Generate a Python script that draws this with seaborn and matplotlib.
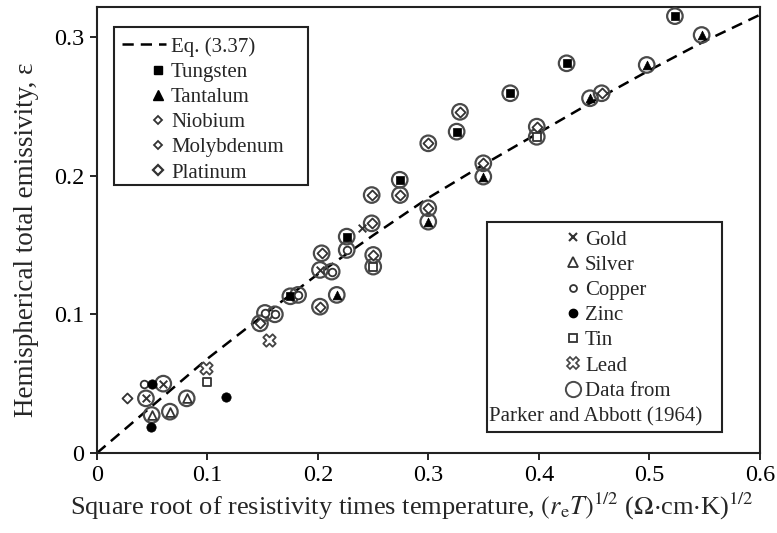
import matplotlib
matplotlib.use("Agg")
import matplotlib.pyplot as plt
import seaborn as sns
from matplotlib.lines import Line2D
from matplotlib.patches import Rectangle
from matplotlib.legend_handler import HandlerLine2D

# ---------------- data ----------------
eq_x = [0, 0.05, 0.1, 0.15, 0.2, 0.25, 0.3, 0.35, 0.4, 0.45, 0.5, 0.55, 0.6]
eq_y = [0, 0.034, 0.068, 0.099, 0.129, 0.157, 0.184, 0.208, 0.231, 0.254, 0.276, 0.297, 0.316]

tungsten_x = [0.175, 0.226, 0.274, 0.3255, 0.374, 0.425, 0.523]
tungsten_y = [0.113, 0.156, 0.197, 0.2317, 0.2594, 0.281, 0.315]

tantalum_x = [0.217, 0.2998, 0.3496, 0.4462, 0.4975, 0.5472]
tantalum_y = [0.114, 0.1668, 0.1993, 0.2558, 0.2798, 0.3014]

niobium_x = [0.027, 0.25, 0.4567]
niobium_y = [0.040, 0.1428, 0.2594]

molybdenum_x = [0.1475, 0.2018, 0.2486, 0.2998, 0.3496, 0.398]
molybdenum_y = [0.0935, 0.1055, 0.1656, 0.1765, 0.2089, 0.2353]

platinum_x = [0.2033, 0.2486, 0.2742, 0.2998, 0.3285]
platinum_y = [0.144, 0.186, 0.186, 0.2233, 0.246]

gold_x = [0.0443, 0.060, 0.2018, 0.2395]
gold_y = [0.0394, 0.050, 0.132, 0.162]

silver_x = [0.0495, 0.066, 0.0812]
silver_y = [0.0274, 0.0298, 0.0394]

copper_x = [0.043, 0.152, 0.161, 0.182, 0.2124, 0.226]
copper_y = [0.0495, 0.101, 0.100, 0.114, 0.1308, 0.1464]

zinc_x = [0.050, 0.0489, 0.1167]
zinc_y = [0.0495, 0.0185, 0.0406]

tin_x = [0.0992, 0.25, 0.398]
tin_y = [0.051, 0.1344, 0.228]

lead_x = [0.0986, 0.156]
lead_y = [0.061, 0.0815]

# Parker and Abbott (1964) data (ringed points)
parker_x = [0.0443, 0.060, 0.0495, 0.066, 0.0812,
            0.1475, 0.152, 0.161, 0.175, 0.182, 0.2018, 0.217, 0.2033, 0.2018, 0.2124,
            0.226, 0.226, 0.2486, 0.2486, 0.25, 0.25, 0.274, 0.2742,
            0.2998, 0.2998, 0.2998, 0.3255, 0.3285, 0.3496, 0.3496, 0.374,
            0.398, 0.398, 0.425, 0.4462, 0.4567, 0.4975, 0.523, 0.5472]
parker_y = [0.0394, 0.050, 0.0274, 0.0298, 0.0394,
            0.0935, 0.101, 0.100, 0.113, 0.114, 0.1055, 0.114, 0.144, 0.132, 0.1308,
            0.1464, 0.156, 0.1656, 0.186, 0.1428, 0.1344, 0.197, 0.186,
            0.2233, 0.1765, 0.1668, 0.2317, 0.246, 0.2089, 0.1993, 0.2594,
            0.2353, 0.228, 0.281, 0.2558, 0.2594, 0.2798, 0.315, 0.3014]

x_ticks = [0, 0.1, 0.2, 0.3, 0.4, 0.5, 0.6]
x_tick_labels = ["0", "0.1", "0.2", "0.3", "0.4", "0.5", "0.6"]
y_ticks = [0, 0.1, 0.2, 0.3]
y_tick_labels = ["0", "0.1", "0.2", "0.3"]

# ---------------- style ----------------
sns.set_style("ticks")
plt.rcParams["font.family"] = ["Liberation Serif", "DejaVu Serif"]
plt.rcParams["mathtext.fontset"] = "stix"

fig = plt.figure(figsize=(7.77, 5.33), dpi=100)
ax = fig.add_axes([0.1248, 0.1501, 0.8533, 0.8368])

K = "black"
RING = "#4a4a4a"

sns.lineplot(x=eq_x, y=eq_y, ax=ax, color=K, lw=1.8, dashes=False, zorder=2)
ax.lines[-1].set_dashes((4.5, 2.8))

# rings
sns.scatterplot(x=parker_x, y=parker_y, ax=ax, marker="o", s=125, facecolor="none",
                edgecolor=RING, linewidth=1.6, zorder=3)
# inner markers
sns.scatterplot(x=tungsten_x, y=tungsten_y, ax=ax, marker="s", s=36, color=K, edgecolor=K, linewidth=0.5, zorder=4)
sns.scatterplot(x=tantalum_x, y=tantalum_y, ax=ax, marker="^", s=40, color=K, edgecolor=K, linewidth=0.5, zorder=4)
for xs, ys in [(niobium_x, niobium_y), (molybdenum_x, molybdenum_y), (platinum_x, platinum_y)]:
    sns.scatterplot(x=xs, y=ys, ax=ax, marker="D", s=26, color="white", edgecolor="#333333", linewidth=1.3, zorder=4)
sns.scatterplot(x=gold_x, y=gold_y, ax=ax, marker="x", s=30, color="#333333", linewidth=1.4, zorder=4)
sns.scatterplot(x=silver_x, y=silver_y, ax=ax, marker="^", s=40, color="white", edgecolor="#333333", linewidth=1.3, zorder=4)
sns.scatterplot(x=copper_x, y=copper_y, ax=ax, marker="o", s=30, color="white", edgecolor="#333333", linewidth=1.3, zorder=4)
sns.scatterplot(x=zinc_x, y=zinc_y, ax=ax, marker="o", s=45, color=K, edgecolor=K, linewidth=0.5, zorder=4)
sns.scatterplot(x=tin_x, y=tin_y, ax=ax, marker="s", s=30, color="white", edgecolor="#333333", linewidth=1.3, zorder=4)
sns.scatterplot(x=lead_x, y=lead_y, ax=ax, marker="X", s=80, color="white", edgecolor="#444444", linewidth=1.3, zorder=4)

# ---------------- axes ----------------
ax.set_xlim(0, 0.6)
ax.set_ylim(0, 0.3216)
ax.set_xticks(x_ticks)
ax.set_xticklabels(x_tick_labels)
ax.set_yticks(y_ticks)
ax.set_yticklabels(y_tick_labels)
ax.tick_params(direction="out", length=5, width=1.2, labelsize=17.5, colors=K, pad=4)
for s in ax.spines.values():
    s.set_visible(True)
    s.set_linewidth(1.5)
    s.set_color("#222222")
ax.set_xlabel(r"Square root of resistivity times temperature, $(r_{\mathrm{e}}T)^{1/2}$ ($\Omega$$\cdot$cm$\cdot$K)$^{1/2}$",
              fontsize=19)
ax.xaxis.set_label_coords(0.475, -0.121)
ax.xaxis.label.set_va("center")
ax.set_ylabel("Hemispherical total emissivity, ε", fontsize=19.5)
ax.yaxis.set_label_coords(-0.087, 0.478)


class RightMarkerHandler(HandlerLine2D):
    def __init__(self, frac=0.82, **kw):
        super().__init__(**kw)
        self.frac = frac

    def create_artists(self, legend, orig_handle, xdescent, ydescent, width, height, fontsize, trans):
        arts = super().create_artists(legend, orig_handle, xdescent, ydescent, width, height, fontsize, trans)
        for a in arts:
            a.set_xdata([self.frac * width - xdescent] * len(a.get_xdata()))
        return arts


# legend 1
h_eq = Line2D([], [], color=K, lw=1.8, dashes=(4.5, 2.8))
h_w = Line2D([], [], ls="None", marker="s", ms=6, mfc=K, mec=K)
h_ta = Line2D([], [], ls="None", marker="^", ms=6.5, mfc=K, mec=K)
h_nb = Line2D([], [], ls="None", marker="D", ms=4.5, mfc="white", mec="#333333", mew=1.3)
h_mo = Line2D([], [], ls="None", marker="D", ms=4.5, mfc="white", mec="#333333", mew=1.3)
h_pt = Line2D([], [], ls="None", marker="D", ms=5, mfc="white", mec="#333333", mew=1.6)
hm = {h: RightMarkerHandler() for h in [h_w, h_ta, h_nb, h_mo, h_pt]}
leg1 = ax.legend([h_eq, h_w, h_ta, h_nb, h_mo, h_pt],
                 ["Eq. (3.37)", "Tungsten", "Tantalum", "Niobium", "Molybdenum", "Platinum"],
                 loc="upper left", bbox_to_anchor=(0.0377, 0.933), frameon=False,
                 fontsize=15, handlelength=2.1, handletextpad=0.25, labelspacing=0.27,
                 borderpad=0, borderaxespad=0, handler_map=hm)
ax.add_artist(leg1)
ax.add_patch(Rectangle((0.0256, 0.601), 0.2926, 0.354, transform=ax.transAxes,
                       fill=True, facecolor="white", edgecolor="#222222", lw=1.5, zorder=5))
leg1.set_zorder(6)

# legend 2
h_au = Line2D([], [], ls="None", marker="x", ms=5.5, mec="#333333", mew=1.5)
h_ag = Line2D([], [], ls="None", marker="^", ms=6.5, mfc="white", mec="#333333", mew=1.3)
h_cu = Line2D([], [], ls="None", marker="o", ms=5, mfc="white", mec="#333333", mew=1.3)
h_zn = Line2D([], [], ls="None", marker="o", ms=6, mfc=K, mec=K)
h_sn = Line2D([], [], ls="None", marker="s", ms=5.5, mfc="white", mec="#333333", mew=1.3)
h_pb = Line2D([], [], ls="None", marker="X", ms=8, mfc="white", mec="#444444", mew=1.2)
h_pa = Line2D([], [], ls="None", marker="o", ms=11, mfc="none", mec=RING, mew=1.4)
leg2 = ax.legend([h_au, h_ag, h_cu, h_zn, h_sn, h_pb, h_pa],
                 ["Gold", "Silver", "Copper", "Zinc", "Tin", "Lead", "Data from"],
                 loc="upper left", bbox_to_anchor=(0.703, 0.5), frameon=False,
                 fontsize=15, handlelength=1.0, handletextpad=0.05, labelspacing=0.27,
                 borderpad=0, borderaxespad=0)
ax.add_patch(Rectangle((0.588, 0.047), 0.355, 0.471, transform=ax.transAxes,
                       fill=True, facecolor="white", edgecolor="#222222", lw=1.5, zorder=5))
leg2.set_zorder(6)
ax.text(0.592, 0.082, "Parker and Abbott (1964)", transform=ax.transAxes,
        fontsize=15, va="center", ha="left", zorder=7)

fig.savefig("out.png", dpi=100)
